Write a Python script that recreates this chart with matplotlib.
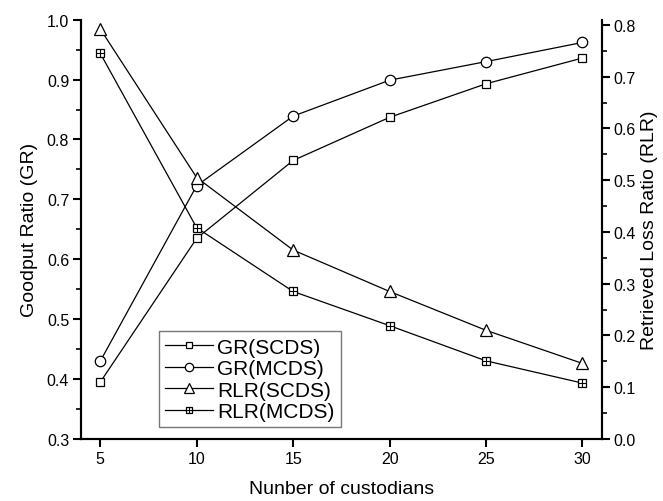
import matplotlib
matplotlib.use('Agg')
import matplotlib.pyplot as plt
from matplotlib.ticker import MultipleLocator
from matplotlib.lines import Line2D

plt.rcParams['font.family'] = ['Liberation Sans', 'DejaVu Sans']

custodians = [5, 10, 15, 20, 25, 30]
gr_scds = [0.395, 0.635, 0.765, 0.837, 0.893, 0.936]
gr_mcds = [0.430, 0.723, 0.839, 0.899, 0.930, 0.962]
rlr_scds = [0.792, 0.505, 0.365, 0.285, 0.210, 0.146]
rlr_mcds = [0.745, 0.408, 0.285, 0.219, 0.151, 0.108]

fig = plt.figure(figsize=(6.63, 5.02), dpi=100)
ax = fig.add_axes([81/663, 1 - 440/502, (601.7 - 81)/663, (440 - 20.7)/502])
ax2 = ax.twinx()

def style(ms):
    return dict(color='black', lw=0.9, markerfacecolor='white', markeredgecolor='black',
                markeredgewidth=0.9, markersize=ms)

l1, = ax.plot(custodians, gr_scds, marker='s', **style(6))
l2, = ax.plot(custodians, gr_mcds, marker='o', **style(7.5))
l3, = ax2.plot(custodians, rlr_scds, marker='^', **style(9))
# square with a cross inside
l4, = ax2.plot(custodians, rlr_mcds, marker='s', **style(6))
ax2.plot(custodians, rlr_mcds, ls='none', marker='+', markersize=6, markeredgewidth=0.8, color='black')

ax.set_xlim(4, 31)
ax.set_ylim(0.3, 1.0)
ax2.set_ylim(0, 0.81)
ax.set_xticks(custodians)
ax.yaxis.set_major_locator(MultipleLocator(0.1))
ax.yaxis.set_minor_locator(MultipleLocator(0.05))
ax2.yaxis.set_major_locator(MultipleLocator(0.1))
ax2.yaxis.set_minor_locator(MultipleLocator(0.05))
ax.yaxis.set_major_formatter(lambda v, p: f'{v:.1f}')
ax2.yaxis.set_major_formatter(lambda v, p: f'{v:.1f}')

for a in (ax, ax2):
    a.spines['top'].set_visible(False)
    for s in a.spines.values():
        s.set_linewidth(1.5)
    a.tick_params(which='major', direction='out', length=5.5, width=1.5, labelsize=11.5, pad=3)
    a.tick_params(which='minor', direction='out', length=3.5, width=1.2)

ax.set_xlabel('Nunber of custodians', fontsize=14, labelpad=10)
ax.set_ylabel('Goodput Ratio (GR)', fontsize=14, labelpad=6)
ax2.set_ylabel('Retrieved Loss Ratio (RLR)', fontsize=14, labelpad=4)

h4 = (Line2D([], [], color='black', lw=0.9, marker='s', markersize=6, markerfacecolor='white', markeredgewidth=0.9),
      Line2D([], [], ls='none', marker='+', markersize=6, markeredgewidth=0.8, color='black'))
leg = ax.legend([l1, l2, l3, h4], ['GR(SCDS)', 'GR(MCDS)', 'RLR(SCDS)', 'RLR(MCDS)'],
                loc='lower left', bbox_to_anchor=(0.150, 0.028), fontsize=15, markerscale=0.8,
                frameon=True, fancybox=False, edgecolor='#555555', handlelength=2.3,
                borderpad=0.3, labelspacing=0.12, handletextpad=0.2, borderaxespad=0)
leg.get_frame().set_linewidth(1.0)

fig.savefig('out.png', dpi=100)
